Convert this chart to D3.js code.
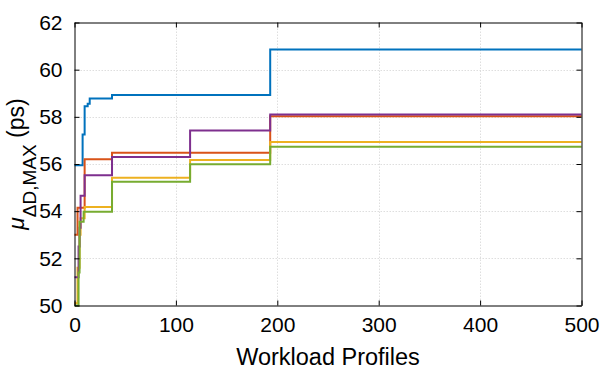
<!DOCTYPE html>
<html>
<head>
<meta charset="utf-8">
<script src="https://cdn.jsdelivr.net/npm/d3@7"></script>
<style>
  html, body { margin: 0; padding: 0; background: #fff; }
  svg { display: block; font-family: "Liberation Sans", Arial, sans-serif; }
</style>
</head>
<body>
<svg id="chart" width="600" height="369"></svg>
<script>
// Step-wise running maximum for each run: [profile index, value (ps)]
const runBlue   = [[0, 55.95], [8, 57.25], [10, 58.45], [13, 58.56], [15, 58.78], [37, 58.93], [193, 60.86]];
const runOrange = [[0, 53.0], [3, 54.15], [10, 56.2], [37, 56.48], [193, 58.02]];
const runYellow = [[0, 50.1], [3, 51.6], [5, 53.0], [6, 53.7], [10, 54.18], [37, 55.42], [114, 56.17], [193, 56.93]];
const runPurple = [[0, 51.2], [4, 52.5], [5, 53.3], [6, 54.65], [10, 55.52], [37, 56.3], [114, 57.42], [193, 58.1]];
const runGreen  = [[0, 50.0], [4, 51.4], [5, 53.55], [9, 53.98], [37, 55.25], [114, 55.99], [193, 56.73]];

const xTicks = [0, 100, 200, 300, 400, 500];
const yTicks = [50, 52, 54, 56, 58, 60, 62];
const xMax = 500;

const series = [
  { data: runBlue,   color: "#0072BD" },
  { data: runOrange, color: "#D95319" },
  { data: runYellow, color: "#EDB120" },
  { data: runPurple, color: "#7E2F8E" },
  { data: runGreen,  color: "#77AC30" }
];

const svg = d3.select("#chart");
const pLeft = 74.5, pRight = 581.5, pTop = 22.5, pBottom = 305.5;

const x = d3.scaleLinear().domain([0, 500]).range([pLeft, pRight]);
const y = d3.scaleLinear().domain([50, 62]).range([pBottom, pTop]);

svg.append("rect").attr("width", 600).attr("height", 369).attr("fill", "#fff");

// grid
const grid = svg.append("g").attr("stroke", "#d6d6d6").attr("stroke-width", 0.8)
  .attr("stroke-dasharray", "1.5,1.5").attr("fill", "none");
xTicks.slice(1, -1).forEach(t => {
  grid.append("line").attr("x1", Math.round(x(t)) + 0.5).attr("x2", Math.round(x(t)) + 0.5)
    .attr("y1", pTop).attr("y2", pBottom);
});
yTicks.slice(1, -1).forEach(t => {
  grid.append("line").attr("y1", Math.round(y(t)) + 0.5).attr("y2", Math.round(y(t)) + 0.5)
    .attr("x1", pLeft).attr("x2", pRight);
});

// step lines
const line = d3.line().x(d => x(d[0])).y(d => y(d[1])).curve(d3.curveStepAfter);
const plot = svg.append("g");
series.forEach(s => {
  const pts = s.data.concat([[xMax, s.data[s.data.length - 1][1]]]);
  plot.append("path").attr("d", line(pts)).attr("fill", "none")
    .attr("stroke", s.color).attr("stroke-width", 2).attr("stroke-linejoin", "miter");
});

// axes box with inward ticks on all sides
const tickLen = 5;
const axisBottom = d3.axisBottom(x).tickValues(xTicks).tickSizeInner(-tickLen).tickSizeOuter(0).tickPadding(12);
const axisTop = d3.axisTop(x).tickValues(xTicks).tickSizeInner(-tickLen).tickSizeOuter(0).tickFormat("");
const axisLeft = d3.axisLeft(y).tickValues(yTicks).tickSizeInner(-tickLen).tickSizeOuter(0).tickPadding(12);
const axisRight = d3.axisRight(y).tickValues(yTicks).tickSizeInner(-tickLen).tickSizeOuter(0).tickFormat("");

function style(g) {
  g.selectAll("path.domain").attr("stroke", "#000").attr("stroke-width", 1);
  g.selectAll(".tick line").attr("stroke", "#000").attr("stroke-width", 1);
  g.selectAll(".tick text").attr("fill", "#000").attr("font-size", 21)
    .attr("font-family", "Liberation Sans, Arial, sans-serif");
}
svg.append("g").attr("transform", `translate(0,${pBottom})`).call(axisBottom).call(style);
svg.append("g").attr("transform", `translate(0,${pTop})`).call(axisTop).call(style);
svg.append("g").attr("transform", `translate(${pLeft},0)`).call(axisLeft).call(style);
svg.append("g").attr("transform", `translate(${pRight},0)`).call(axisRight).call(style);

// axis titles
svg.append("text").attr("x", (pLeft + pRight) / 2).attr("y", 365)
  .attr("text-anchor", "middle").attr("font-size", 23.5).attr("fill", "#000")
  .text("Workload Profiles");

const yl = svg.append("text")
  .attr("transform", `translate(24,${(pTop + pBottom) / 2}) rotate(-90)`)
  .attr("text-anchor", "middle").attr("font-size", 23).attr("fill", "#000");
yl.append("tspan").attr("font-style", "italic").text("μ");
yl.append("tspan").attr("font-size", 19).attr("dy", 12).text("ΔD,MAX");
yl.append("tspan").attr("dy", -12).text(" (ps)");
</script>
</body>
</html>
